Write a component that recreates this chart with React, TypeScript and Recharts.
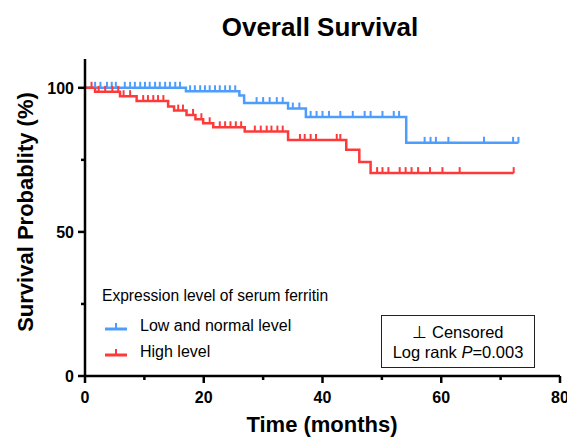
import { ComposedChart, Line, Scatter, XAxis, YAxis } from 'recharts';

const BLUE = '#4d9dfc';
const RED = '#fd3a3a';
const FONT = '"Liberation Sans", Arial, sans-serif';

// Kaplan-Meier steps (months, % surviving)
const lowTimes = [0, 17.0, 26.0, 26.8, 34.2, 37.2, 54.1, 73.0];
const lowSurv = [100, 98.8, 97.3, 94.7, 92.8, 89.9, 80.9, 80.9];
const lowCensored = [
  1.7, 2.6, 3.7, 4.5, 5.2, 6.7, 7.6, 8.4, 9.3, 10.1, 10.9, 11.8, 12.6, 13.5, 14.3, 15.2, 16.0,
  17.7, 18.5, 19.4, 20.2, 21.0, 21.9, 22.7, 23.6, 24.4, 25.3, 28.9, 30.0, 31.1, 32.3, 33.3,
  35.0, 36.1, 38.0, 39.0, 40.0, 41.1, 43.0, 45.1, 47.1, 48.1, 50.1, 52.0, 52.9, 57.2, 58.2,
  59.1, 61.2, 67.2, 72.1, 73.0,
];

const highTimes = [0, 1.7, 5.9, 8.7, 14.0, 15.0, 17.1, 18.6, 19.9, 21.6, 26.9, 34.2, 44.0, 46.2, 48.1, 72.2];
const highSurv = [100, 98.6, 97.1, 95.4, 93.5, 92.1, 90.6, 89.1, 87.7, 86.3, 84.8, 81.9, 78.5, 74.3, 70.4, 70.4];
const highCensored = [
  1.1, 2.3, 3.4, 4.6, 5.6, 6.5, 7.6, 9.8, 10.6, 11.5, 12.3, 13.2, 15.7, 16.5, 18.2, 19.6, 21.0,
  22.7, 23.6, 24.5, 25.4, 26.3, 28.6, 29.6, 30.6, 31.4, 32.4, 33.3, 36.2, 37.0, 38.0, 38.9,
  42.4, 43.0, 49.2, 50.1, 51.1, 53.0, 54.0, 55.0, 56.1, 58.1, 60.2, 63.1, 72.2,
];

const xTicks = [0, 10, 20, 30, 40, 50, 60, 70, 80];
const xMajor = [0, 20, 40, 60, 80];
const yTicks = [0, 25, 50, 75, 100];
const yMajor = [0, 50, 100];

function survAt(times: number[], surv: number[], t: number) {
  let v = surv[0];
  for (let i = 0; i < times.length; i++) if (times[i] <= t) v = surv[i];
  return v;
}

const lowCurve = lowTimes.map((t, i) => ({ t, s: lowSurv[i] }));
const highCurve = highTimes.map((t, i) => ({ t, s: highSurv[i] }));
const lowMarks = lowCensored.map((t) => ({ t, s: survAt(lowTimes, lowSurv, t) }));
const highMarks = highCensored.map((t) => ({ t, s: survAt(highTimes, highSurv, t) }));

const censorShape = (color: string) => (props: any) => (
  <line x1={props.cx} x2={props.cx} y1={props.cy} y2={props.cy - 6} stroke={color} strokeWidth={2} />
);

const XTick = (props: any) => {
  const { x, y, payload } = props;
  const major = xMajor.includes(payload.value);
  return (
    <g>
      <line x1={x} x2={x} y1={y} y2={y + (major ? 7 : 4)} stroke="#000" strokeWidth={2.5} />
      {major && (
        <text x={x} y={y + 27} textAnchor="middle" fontSize={16} fontWeight="bold" fontFamily={FONT} fill="#000">
          {payload.value}
        </text>
      )}
    </g>
  );
};

const YTick = (props: any) => {
  const { x, y, payload } = props;
  const major = yMajor.includes(payload.value);
  return (
    <g>
      <line x1={x - (major ? 7 : 4)} x2={x} y1={y} y2={y} stroke="#000" strokeWidth={2.5} />
      {major && (
        <text x={x - 11} y={y + 6} textAnchor="end" fontSize={16} fontWeight="bold" fontFamily={FONT} fill="#000">
          {payload.value}
        </text>
      )}
    </g>
  );
};

const LegendIcon = ({ color }: { color: string }) => (
  <svg width={22} height={10} style={{ position: 'absolute', left: 105, top: -5 }}>
    <line x1={0} x2={22} y1={7} y2={7} stroke={color} strokeWidth={3} />
    <line x1={11} x2={11} y1={7} y2={1} stroke={color} strokeWidth={2} />
  </svg>
);

export default function App() {
  return (
    <div style={{ position: 'absolute', left: 0, top: 0, width: 567, height: 437, background: '#fff', fontFamily: FONT }}>
      <ComposedChart width={567} height={437} margin={{ top: 59, right: 7, bottom: 0, left: 0 }}>
        <XAxis
          type="number"
          dataKey="t"
          domain={[0, 80]}
          ticks={xTicks}
          interval={0}
          tickSize={0}
          tickMargin={0}
          tickLine={false}
          tick={<XTick />}
          height={61}
          axisLine={{ stroke: '#000', strokeWidth: 2.5 }}
        />
        <YAxis
          type="number"
          dataKey="s"
          domain={[0, 110]}
          ticks={yTicks}
          interval={0}
          tickSize={0}
          tickMargin={0}
          tickLine={false}
          tick={<YTick />}
          width={85}
          axisLine={{ stroke: '#000', strokeWidth: 2.5 }}
        />
        <Line data={lowCurve} dataKey="s" type="stepAfter" stroke={BLUE} strokeWidth={2.5} dot={false} isAnimationActive={false} />
        <Scatter data={lowMarks} dataKey="s" shape={censorShape(BLUE)} isAnimationActive={false} />
        <Line data={highCurve} dataKey="s" type="stepAfter" stroke={RED} strokeWidth={2.5} dot={false} isAnimationActive={false} />
        <Scatter data={highMarks} dataKey="s" shape={censorShape(RED)} isAnimationActive={false} />
      </ComposedChart>

      <div style={{ position: 'absolute', left: 120, width: 400, top: 11, textAlign: 'center', fontSize: 26, lineHeight: '32px', fontWeight: 'bold' }}>
        Overall Survival
      </div>
      <div
        style={{
          position: 'absolute',
          left: 26 - 150,
          top: 212 - 14,
          width: 300,
          textAlign: 'center',
          fontSize: 22,
          fontWeight: 'bold',
          lineHeight: '28px',
          transform: 'rotate(-90deg)',
        }}
      >
        Survival Probablity (%)
      </div>
      <div style={{ position: 'absolute', left: 172, width: 300, top: 412, textAlign: 'center', fontSize: 22, lineHeight: '26px', fontWeight: 'bold' }}>
        Time (months)
      </div>

      <div style={{ position: 'absolute', left: 102, top: 287, fontSize: 15.6, whiteSpace: 'nowrap' }}>Expression level of serum ferritin</div>
      <div style={{ position: 'absolute', left: 0, top: 327 }}>
        <LegendIcon color={BLUE} />
        <div style={{ position: 'absolute', left: 140, top: -10, fontSize: 16, whiteSpace: 'nowrap' }}>Low and normal level</div>
      </div>
      <div style={{ position: 'absolute', left: 0, top: 353 }}>
        <LegendIcon color={RED} />
        <div style={{ position: 'absolute', left: 140, top: -10, fontSize: 16, whiteSpace: 'nowrap' }}>High level</div>
      </div>

      <div
        style={{
          position: 'absolute',
          left: 381,
          top: 315,
          width: 154,
          height: 53,
          border: '1px solid #222',
          fontSize: 16.5,
          lineHeight: '20px',
          textAlign: 'center',
          paddingTop: 6,
          boxSizing: 'border-box',
        }}
      >
        <div>⊥ Censored</div>
        <div>
          Log rank <i>P</i>=0.003
        </div>
      </div>
    </div>
  );
}
